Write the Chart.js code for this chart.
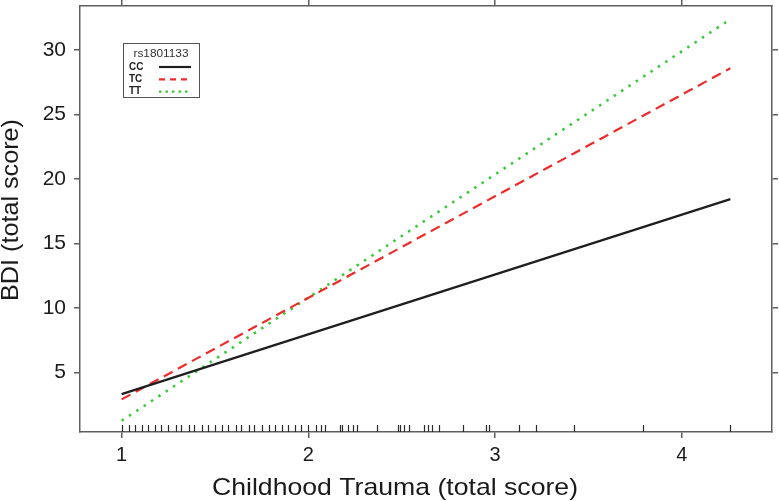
<!DOCTYPE html>
<html>
<head>
<meta charset="utf-8">
<script src="https://cdn.jsdelivr.net/npm/chart.js@4/dist/chart.umd.min.js"></script>
<style>
  html, body { margin: 0; padding: 0; background: #ffffff; }
  canvas { display: block; }
</style>
</head>
<body>
<canvas id="c" width="779" height="501"></canvas>
<script>
// ---- data ----
const xEnds = [1, 4.26];                 // range of childhood trauma scores covered by the fitted lines
const ccValues = [3.33, 18.45];          // rs1801133 CC
const tcValues = [2.92, 28.6];           // rs1801133 TC
const ttValues = [1.26, 32.4];           // rs1801133 TT
const seriesNames = ['CC', 'TC', 'TT'];
const legendTitle = 'rs1801133';
const xTicks = [1, 2, 3, 4];
const yTicks = [5, 10, 15, 20, 25, 30];
const rugValues = [1.00, 1.04, 1.07, 1.11, 1.14, 1.18, 1.21, 1.25, 1.29, 1.32, 1.36, 1.39,
  1.43, 1.46, 1.50, 1.54, 1.57, 1.61, 1.64, 1.68, 1.71, 1.75, 1.79, 1.82, 1.86, 1.89, 1.93,
  1.96, 2.00, 2.04, 2.07, 2.09, 2.17, 2.18, 2.21, 2.24, 2.26, 2.37, 2.48, 2.49, 2.51, 2.54,
  2.62, 2.64, 2.66, 2.70, 2.83, 2.95, 2.97, 3.13, 3.22, 3.42, 3.79, 4.26];
const xLabel = 'Childhood Trauma (total score)';
const yLabel = 'BDI (total score)';

const FONT = "'Liberation Sans', Arial, sans-serif";
const AXIS = '#5e5e5e';
const TEXT = '#1a1a1a';

const toPts = vals => vals.map((v, i) => ({ x: xEnds[i], y: v }));

const rugPlugin = {
  id: 'rug',
  afterDatasetsDraw(chart) {
    const { ctx, chartArea, scales } = chart;
    ctx.save();
    ctx.strokeStyle = '#2a2a2a';
    ctx.lineWidth = 1.2;
    rugValues.forEach(v => {
      const px = Math.round(scales.x.getPixelForValue(v)) + 0.5;
      ctx.beginPath();
      ctx.moveTo(px, chartArea.bottom - 7);
      ctx.lineTo(px, chartArea.bottom);
      ctx.stroke();
    });
    ctx.restore();
  }
};

// axis titles, stretched to the extent they have in the reference
const titlePlugin = {
  id: 'axisTitles',
  afterDraw(chart) {
    const { ctx } = chart;
    ctx.save();
    ctx.fillStyle = TEXT;
    ctx.textBaseline = 'middle';
    ctx.textAlign = 'center';
    ctx.font = "24px " + FONT;
    // x title
    let w = ctx.measureText(xLabel).width;
    ctx.save();
    ctx.translate(395, 488);
    ctx.scale(366 / w, 1);
    ctx.fillText(xLabel, 0, 0);
    ctx.restore();
    // y title
    w = ctx.measureText(yLabel).width;
    ctx.save();
    ctx.translate(11, 210);
    ctx.rotate(-Math.PI / 2);
    ctx.scale(182 / w, 1);
    ctx.fillText(yLabel, 0, 0);
    ctx.restore();
    ctx.restore();
  }
};

const legendPlugin = {
  id: 'boxLegend',
  afterDraw(chart) {
    const { ctx, chartArea } = chart;
    const x0 = chartArea.left + 43, y0 = chartArea.top + 37;
    const w = 76, h = 54;
    ctx.save();
    ctx.fillStyle = '#ffffff';
    ctx.fillRect(x0, y0, w, h);
    ctx.strokeStyle = '#555555';
    ctx.lineWidth = 1;
    ctx.strokeRect(x0 + 0.5, y0 + 0.5, w, h);
    ctx.fillStyle = '#333333';
    ctx.textBaseline = 'middle';
    ctx.textAlign = 'center';
    ctx.font = "11px " + FONT;
    const tw = ctx.measureText(legendTitle).width;
    ctx.save();
    ctx.translate(x0 + 38, y0 + 11);
    ctx.scale(55 / tw, 1);
    ctx.fillText(legendTitle, 0, 0);
    ctx.restore();
    chart.data.datasets.forEach((ds, i) => {
      const yy = y0 + 24 + i * 12.3;
      ctx.textAlign = 'left';
      ctx.fillStyle = '#222222';
      ctx.font = "bold 10px " + FONT;
      ctx.fillText(ds.label, x0 + 6, yy);
      ctx.beginPath();
      ctx.strokeStyle = ds.borderColor;
      ctx.lineWidth = 2.2;
      ctx.setLineDash(ds.legendDash || []);
      ctx.moveTo(x0 + 36, yy);
      ctx.lineTo(x0 + 68, yy);
      ctx.stroke();
      ctx.setLineDash([]);
    });
    ctx.restore();
  }
};

const setTicks = arr => scale => { scale.ticks = arr.map(v => ({ value: v })); };

new Chart(document.getElementById('c'), {
  type: 'scatter',
  data: {
    datasets: [
      { label: seriesNames[0], data: toPts(ccValues), showLine: true, borderColor: '#1e1e1e',
        borderWidth: 2.2, pointRadius: 0, legendDash: [] },
      { label: seriesNames[1], data: toPts(tcValues), showLine: true, borderColor: '#ee2b2b',
        borderWidth: 2.2, borderDash: [10, 6], pointRadius: 0, legendDash: [6, 5] },
      { label: seriesNames[2], data: toPts(ttValues), showLine: true, borderColor: '#38c838',
        borderWidth: 2.6, borderDash: [2.5, 6.3], pointRadius: 0, legendDash: [2.5, 4] }
    ]
  },
  options: {
    responsive: false,
    animation: false,
    devicePixelRatio: 1,
    layout: { padding: 0 },
    plugins: { legend: { display: false }, tooltip: { enabled: false } },
    scales: {
      x: {
        type: 'linear', position: 'bottom', min: 0.777, max: 4.483,
        afterBuildTicks: setTicks(xTicks),
        afterFit: s => { s.height = 69; s.paddingLeft = 0; s.paddingRight = 0; },
        grid: { drawOnChartArea: false, drawTicks: true, tickLength: 6, color: AXIS, lineWidth: 1.5 },
        border: { color: AXIS, width: 1.5 },
        ticks: { color: TEXT, font: { family: FONT, size: 20 }, padding: 5, maxRotation: 0 },
        title: { display: false, text: xLabel }
      },
      x2: {
        type: 'linear', position: 'top', min: 0.777, max: 4.483,
        afterBuildTicks: setTicks(xTicks),
        afterFit: s => { s.height = 6; s.paddingLeft = 0; s.paddingRight = 0; },
        grid: { drawOnChartArea: false, drawTicks: true, tickLength: 6, color: AXIS, lineWidth: 1.5 },
        border: { color: AXIS, width: 1.5 },
        ticks: { display: false }
      },
      y: {
        type: 'linear', position: 'left', min: 0.39, max: 33.43,
        afterBuildTicks: setTicks(yTicks),
        afterFit: s => { s.width = 80; s.paddingTop = 0; s.paddingBottom = 0; },
        grid: { drawOnChartArea: false, drawTicks: true, tickLength: 6, color: AXIS, lineWidth: 1.5 },
        border: { color: AXIS, width: 1.5 },
        ticks: { color: TEXT, font: { family: FONT, size: 21 }, padding: 8 },
        title: { display: false, text: yLabel }
      },
      y2: {
        type: 'linear', position: 'right', min: 0.39, max: 33.43,
        afterBuildTicks: setTicks(yTicks),
        afterFit: s => { s.width = 7; s.paddingTop = 0; s.paddingBottom = 0; },
        grid: { drawOnChartArea: false, drawTicks: true, tickLength: 6, color: AXIS, lineWidth: 1.5 },
        border: { color: AXIS, width: 1.5 },
        ticks: { display: false }
      }
    }
  },
  plugins: [rugPlugin, legendPlugin, titlePlugin]
});
</script>
</body>
</html>
